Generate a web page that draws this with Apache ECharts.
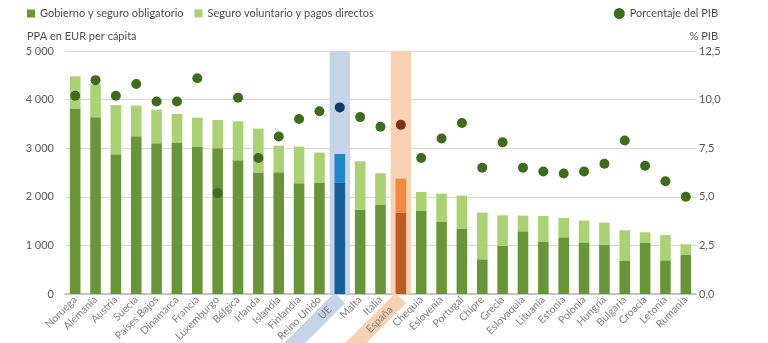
<!DOCTYPE html>
<html>
<head>
<meta charset="utf-8">
<script src="https://cdn.jsdelivr.net/npm/echarts@6/dist/echarts.min.js"></script>
<style>html,body{margin:0;padding:0;background:#fff}#c{width:768px;height:343px}</style>
</head>
<body>
<div id="c"></div>
<script>
const categories = ['Noruega','Alemania','Austria','Suecia','Países Bajos','Dinamarca','Francia','Luxemburgo','Bélgica','Irlanda','Islandia','Finlandia','Reino Unido','UE','Malta','Italia','España','Chequia','Eslovenia','Portugal','Chipre','Grecia','Eslovaquia','Lituania','Estonia','Polonia','Hungría','Bulgaria','Croacia','Letonia','Rumania'];
const gobierno = [3815,3636,2874,3245,3101,3107,3025,2998,2751,2498,2504,2278,2292,2292,1737,1840,1675,1716,1482,1337,714,988,1290,1070,1167,1049,1016,679,1058,693,811];
const voluntario = [664,679,1015,631,693,597,604,582,802,905,549,755,617,589,993,644,699,383,584,688,961,631,323,535,397,461,453,632,212,521,212];
const pib = [10.2,11.0,10.2,10.8,9.9,9.9,11.1,5.2,10.1,7.0,8.1,9.0,9.4,9.6,9.1,8.6,8.7,7.0,8.0,8.8,6.5,7.8,6.5,6.3,6.2,6.3,6.7,7.9,6.6,5.8,5.0];
const leftTicks = [0,1000,2000,3000,4000,5000];
const rightTicks = [0,2.5,5,7.5,10,12.5];

const FONT = 'Lato';
const GREEN_D = '#679538', GREEN_L = '#aad172', DOT = '#3e6b1e';
const hl = {
  'UE': {band:'#c6d4e8', dark:'#145f98', light:'#1f87c9', dot:'#0d3b66', key:'ue'},
  'España': {band:'#f9d2b2', dark:'#bd5c21', light:'#f2893f', dot:'#7a3311', key:'es'}
};
const yMax = leftTicks[leftTicks.length-1];

function items(arr, part) {
  return arr.map((v,i) => {
    const h = hl[categories[i]];
    return h ? {value:v, itemStyle:{color:h[part]}} : v;
  });
}
const bandData = categories.map(c => hl[c] ? {value:yMax, itemStyle:{color:hl[c].band}} : '-');

const chart = echarts.init(document.getElementById('c'), null, {renderer:'canvas'});
chart.setOption({
  animation:false,
  textStyle:{fontFamily:FONT},
  title:[
    {text:'PPA en EUR per cápita', left:22, top:26, textStyle:{fontFamily:FONT, fontSize:11, fontWeight:'normal', color:'#4d4d4d'}},
    {text:'% PIB', right:45, top:26, textStyle:{fontFamily:FONT, fontSize:11, fontWeight:'normal', color:'#4d4d4d'}}
  ],
  legend:[
    {data:['Gobierno y seguro obligatorio','Seguro voluntario y pagos directos'], left:22, top:3, icon:'rect', itemWidth:8, itemHeight:8, itemGap:11,
     textStyle:{fontFamily:FONT, fontSize:11, color:'#4d4d4d'}},
    {data:['Porcentaje del PIB'], right:45, top:3, icon:'circle', itemWidth:11, itemHeight:11, itemGap:8,
     textStyle:{fontFamily:FONT, fontSize:11, color:'#4d4d4d'}}
  ],
  grid:{left:65, right:72, top:51, bottom:49, containLabel:false, outerBoundsMode:'none'},
  xAxis:[
    {type:'category', data:categories, boundaryGap:true,
     axisLine:{lineStyle:{color:'#c4c4c4', width:2}}, axisTick:{show:false},
     axisLabel:{interval:0, rotate:45, margin:4, fontSize:10.5, color:'#808080', fontFamily:FONT,
       formatter: v => hl[v] ? '{'+hl[v].key+'|'+v+'}' : v,
       rich:{
         ue:{backgroundColor:hl['UE'].band, padding:[2,14,2,60], lineHeight:12, fontSize:10.5, color:'#808080', fontFamily:FONT},
         es:{backgroundColor:hl['España'].band, padding:[2,14,2,60], lineHeight:12, fontSize:10.5, color:'#808080', fontFamily:FONT}
       }}},
    {type:'category', data:categories, show:false}
  ],
  yAxis:[
    {type:'value', min:0, max:yMax, interval:1000,
     axisLine:{show:false}, axisTick:{show:false},
     splitLine:{lineStyle:{color:'#d9d9d9', width:1}},
     axisLabel:{margin:11, fontSize:11, color:'#595959', fontFamily:FONT,
       formatter: v => v >= 1000 ? String(v).replace(/\B(?=(\d{3})+(?!\d))/g,' ') : String(v)}},
    {type:'value', min:0, max:rightTicks[rightTicks.length-1], interval:2.5,
     axisLine:{show:false}, axisTick:{show:false}, splitLine:{show:false},
     axisLabel:{margin:3, fontSize:11, color:'#595959', fontFamily:FONT,
       formatter: v => v.toFixed(1).replace('.',',')}}
  ],
  series:[
    {name:'band', type:'bar', xAxisIndex:1, yAxisIndex:0, data:bandData, barWidth:'100%', barCategoryGap:'0%', silent:true, z:1, clip:false},
    {name:'Gobierno y seguro obligatorio', type:'bar', stack:'t', data:items(gobierno,'dark'), itemStyle:{color:GREEN_D}, barWidth:'52%', z:3},
    {name:'Seguro voluntario y pagos directos', type:'bar', stack:'t', data:items(voluntario,'light'), itemStyle:{color:GREEN_L}, barWidth:'52%', z:3},
    {name:'Porcentaje del PIB', type:'scatter', yAxisIndex:1, symbolSize:10,
     data:pib.map((v,i)=>{const h=hl[categories[i]]; return h?{value:v,itemStyle:{color:h.dot}}:v;}),
     itemStyle:{color:DOT, opacity:1}, z:4}
  ]
});
</script>
</body>
</html>
